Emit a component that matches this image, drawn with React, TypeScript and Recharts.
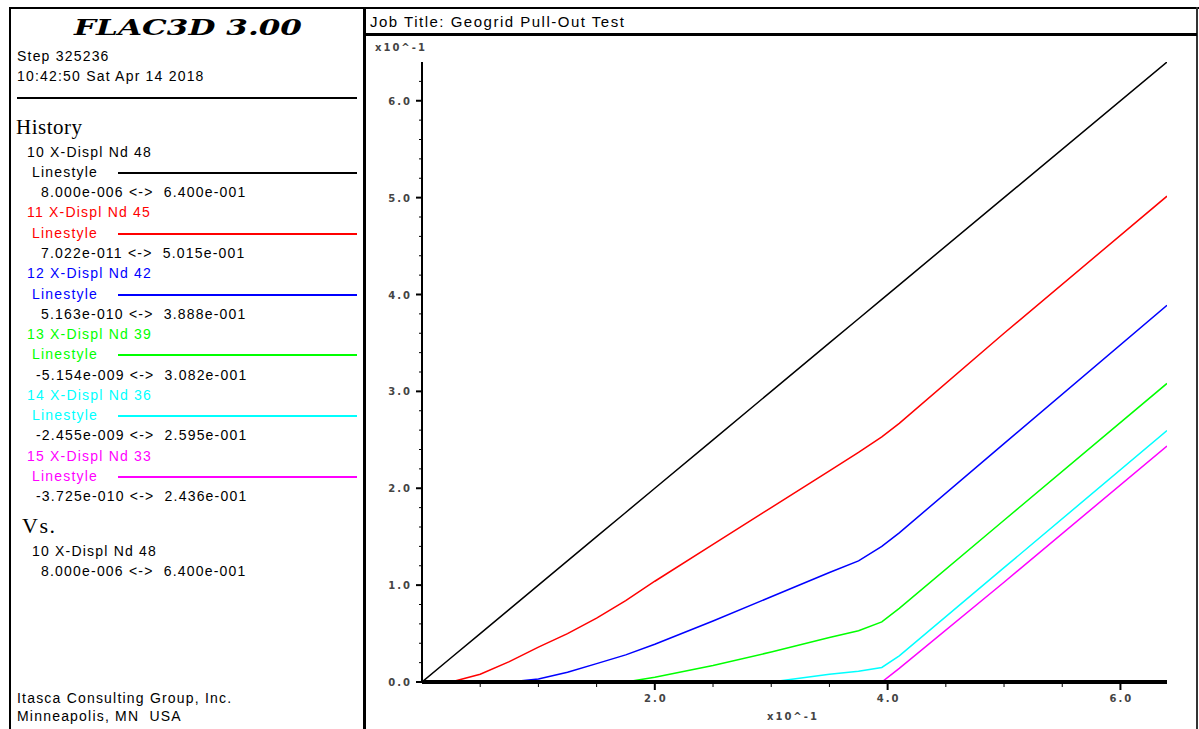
import { LineChart, Line, XAxis, YAxis } from 'recharts'

// all displacements in units of x10^-1 (as on the axes)
const dispNd48 = [0, 0.25, 0.5, 0.75, 1.0, 1.25, 1.5, 1.75, 2.0, 2.5, 3.0, 3.5, 3.75, 3.95, 4.1, 5.0, 6.4]
const nd48 = [0, 0.25, 0.5, 0.75, 1.0, 1.25, 1.5, 1.75, 2.0, 2.5, 3.0, 3.5, 3.75, 3.95, 4.1, 5.0, 6.4]
const nd45 = [0, 0, 0.08, 0.21, 0.36, 0.5, 0.66, 0.84, 1.04, 1.42, 1.8, 2.18, 2.37, 2.53, 2.67, 3.6, 5.015]
const nd42 = [0, 0, 0, 0, 0.03, 0.1, 0.19, 0.28, 0.39, 0.63, 0.88, 1.13, 1.25, 1.4, 1.54, 2.46, 3.888]
const nd39 = [0, 0, 0, 0, 0, 0, 0, 0, 0.05, 0.17, 0.31, 0.46, 0.53, 0.62, 0.76, 1.67, 3.082]
const nd36 = [0, 0, 0, 0, 0, 0, 0, 0, 0, 0, 0, 0.08, 0.11, 0.15, 0.27, 1.18, 2.595]
const nd33 = [0, 0, 0, 0, 0, 0, 0, 0, 0, 0, 0, 0, 0, 0, 0.14, 1.03, 2.436]

const histLabels = ['10 X-Displ Nd 48', '11 X-Displ Nd 45', '12 X-Displ Nd 42', '13 X-Displ Nd 39', '14 X-Displ Nd 36', '15 X-Displ Nd 33']
const histRanges = [
  '8.000e-006 <->  6.400e-001',
  '7.022e-011 <->  5.015e-001',
  '5.163e-010 <->  3.888e-001',
  '-5.154e-009 <->  3.082e-001',
  '-2.455e-009 <->  2.595e-001',
  '-3.725e-010 <->  2.436e-001',
]
const histKeys = ['nd48', 'nd45', 'nd42', 'nd39', 'nd36', 'nd33']
const histColors = ['#000000', '#ff0000', '#0000ff', '#00ff00', '#00ffff', '#ff00ff']

const xTicks = [0.5, 1.0, 1.5, 2.0, 2.5, 3.0, 3.5, 4.0, 4.5, 5.0, 5.5, 6.0]
const yTicks = [
  0, 0.2, 0.4, 0.6, 0.8, 1.0, 1.2, 1.4, 1.6, 1.8, 2.0, 2.2, 2.4, 2.6, 2.8, 3.0,
  3.2, 3.4, 3.6, 3.8, 4.0, 4.2, 4.4, 4.6, 4.8, 5.0, 5.2, 5.4, 5.6, 5.8, 6.0, 6.2,
]

const data = dispNd48.map((x, i) => ({
  x,
  nd48: nd48[i],
  nd45: nd45[i],
  nd42: nd42[i],
  nd39: nd39[i],
  nd36: nd36[i],
  nd33: nd33[i],
}))

const SANS = '"Liberation Sans", Arial, sans-serif'
const SERIF = '"Liberation Serif", "Times New Roman", serif'
const TICKFONT = '"DejaVu Sans", sans-serif'

const isMajor = (v: number) => Math.abs(v - Math.round(v)) < 1e-6

function YTick({ x, y, payload }: any) {
  const v = payload.value
  const major = isMajor(v)
  return (
    <g>
      <line x1={x - (major ? 6 : 3)} x2={x} y1={y} y2={y} stroke="#000" strokeWidth={major ? 2 : 1} />
      {major && (
        <text x={x - 10} y={y + 4} textAnchor="end" fontFamily={TICKFONT} fontSize={10} fontWeight="bold" letterSpacing={2} fill="#444">
          {v.toFixed(1)}
        </text>
      )}
    </g>
  )
}

function XTick({ x, y, payload }: any) {
  const v = payload.value
  const major = isMajor(v) && Math.round(v) % 2 === 0
  return (
    <g>
      <line x1={x} x2={x} y1={y} y2={y + (major ? 8 : 5)} stroke="#000" strokeWidth={major ? 2 : 1} />
      {major && (
        <text x={x + 1} y={y + 20} textAnchor="middle" fontFamily={TICKFONT} fontSize={10} fontWeight="bold" letterSpacing={2} fill="#444">
          {v.toFixed(1)}
        </text>
      )}
    </g>
  )
}

function Txt({ x, cy, size = 14, color = '#000', family = SANS, spacing = 1.2, h = 20, children }: any) {
  return (
    <div
      style={{
        position: 'absolute',
        left: x,
        top: cy - h / 2,
        height: h,
        lineHeight: `${h}px`,
        fontSize: size,
        fontFamily: family,
        color,
        letterSpacing: spacing,
        whiteSpace: 'pre',
      }}
    >
      {children}
    </div>
  )
}

function Rule({ x, y, w, h, color = '#000' }: any) {
  return <div style={{ position: 'absolute', left: x, top: y, width: w, height: h, background: color }} />
}

export default function App() {
  const row = (k: number) => 151.7 + 20.26 * k

  return (
    <div style={{ position: 'absolute', left: 0, top: 0, width: 1199, height: 729, background: '#fff', overflow: 'hidden' }}>
      {/* frame */}
      <Rule x={9} y={7} w={1190} h={2} />
      <Rule x={9} y={7} w={2} h={722} />
      <Rule x={1196} y={7} w={2} h={722} color="#333" />
      <Rule x={363} y={7} w={3} h={722} />
      <Rule x={365} y={33} w={832} h={3} />

      {/* left panel */}
      <svg style={{ position: 'absolute', left: 0, top: 0 }} width={363} height={45}>
        <text x={74} y={35} textLength={228} lengthAdjust="spacingAndGlyphs" fontFamily='"DejaVu Serif", serif' fontStyle="italic" fontWeight="bold" fontSize={23}>
          FLAC3D 3.00
        </text>
      </svg>
      <Txt x={17} cy={55.5}>Step 325236</Txt>
      <Txt x={17} cy={76}>10:42:50 Sat Apr 14 2018</Txt>
      <Rule x={17} y={97} w={340} h={2} />
      <Txt x={16} cy={126.5} size={21} family={SERIF} spacing={0.5} h={30}>History</Txt>

      {histLabels.map((label, i) => (
        <div key={label}>
          <Txt x={27} cy={row(3 * i)} color={histColors[i]}>{label}</Txt>
          <Txt x={32} cy={row(3 * i + 1)} color={histColors[i]}>Linestyle</Txt>
          <Rule x={118} y={Math.round(row(3 * i + 1))} w={239} h={2} color={histColors[i]} />
          <Txt x={histRanges[i].startsWith('-') ? 36 : 41} cy={row(3 * i + 2)}>{histRanges[i]}</Txt>
        </div>
      ))}

      <Txt x={22} cy={526} size={22} family={SERIF} spacing={1.5} h={30}>Vs.</Txt>
      <Txt x={32} cy={551}>{histLabels[0]}</Txt>
      <Txt x={41} cy={571}>{histRanges[0]}</Txt>

      <Txt x={17} cy={697.5}>Itasca Consulting Group, Inc.</Txt>
      <Txt x={17} cy={716}>Minneapolis, MN  USA</Txt>

      {/* right panel */}
      <Txt x={370} cy={22} size={15} spacing={1.5}>Job Title: Geogrid Pull-Out Test</Txt>
      <Txt x={375} cy={48} size={10} family={TICKFONT} spacing={2} color="#444" h={14}>
        <b>x10^-1</b>
      </Txt>
      <Txt x={767} cy={717} size={10} family={TICKFONT} spacing={2} color="#444" h={14}>
        <b>x10^-1</b>
      </Txt>

      <div style={{ position: 'absolute', left: 366, top: 36 }}>
        <LineChart width={831} height={690} data={data} margin={{ top: 26, right: 30, bottom: 0, left: 0 }}>
          <XAxis
            type="number"
            dataKey="x"
            domain={[0, 6.4]}
            ticks={xTicks}
            interval={0}
            tickSize={0}
            tickMargin={0}
            height={44}
            tick={<XTick />}
            axisLine={{ stroke: '#000', strokeWidth: 4 }}
            allowDataOverflow
          />
          <YAxis
            type="number"
            domain={[0, 6.4]}
            ticks={yTicks}
            interval={0}
            tickSize={0}
            tickMargin={0}
            width={56}
            tick={<YTick />}
            axisLine={{ stroke: '#000', strokeWidth: 2 }}
            allowDataOverflow
          />
          {histKeys.map((k, i) => (
            <Line
              key={k}
              type="linear"
              dataKey={k}
              stroke={histColors[i]}
              strokeWidth={1.5}
              dot={false}
              isAnimationActive={false}
            />
          ))}
        </LineChart>
      </div>
    </div>
  )
}
